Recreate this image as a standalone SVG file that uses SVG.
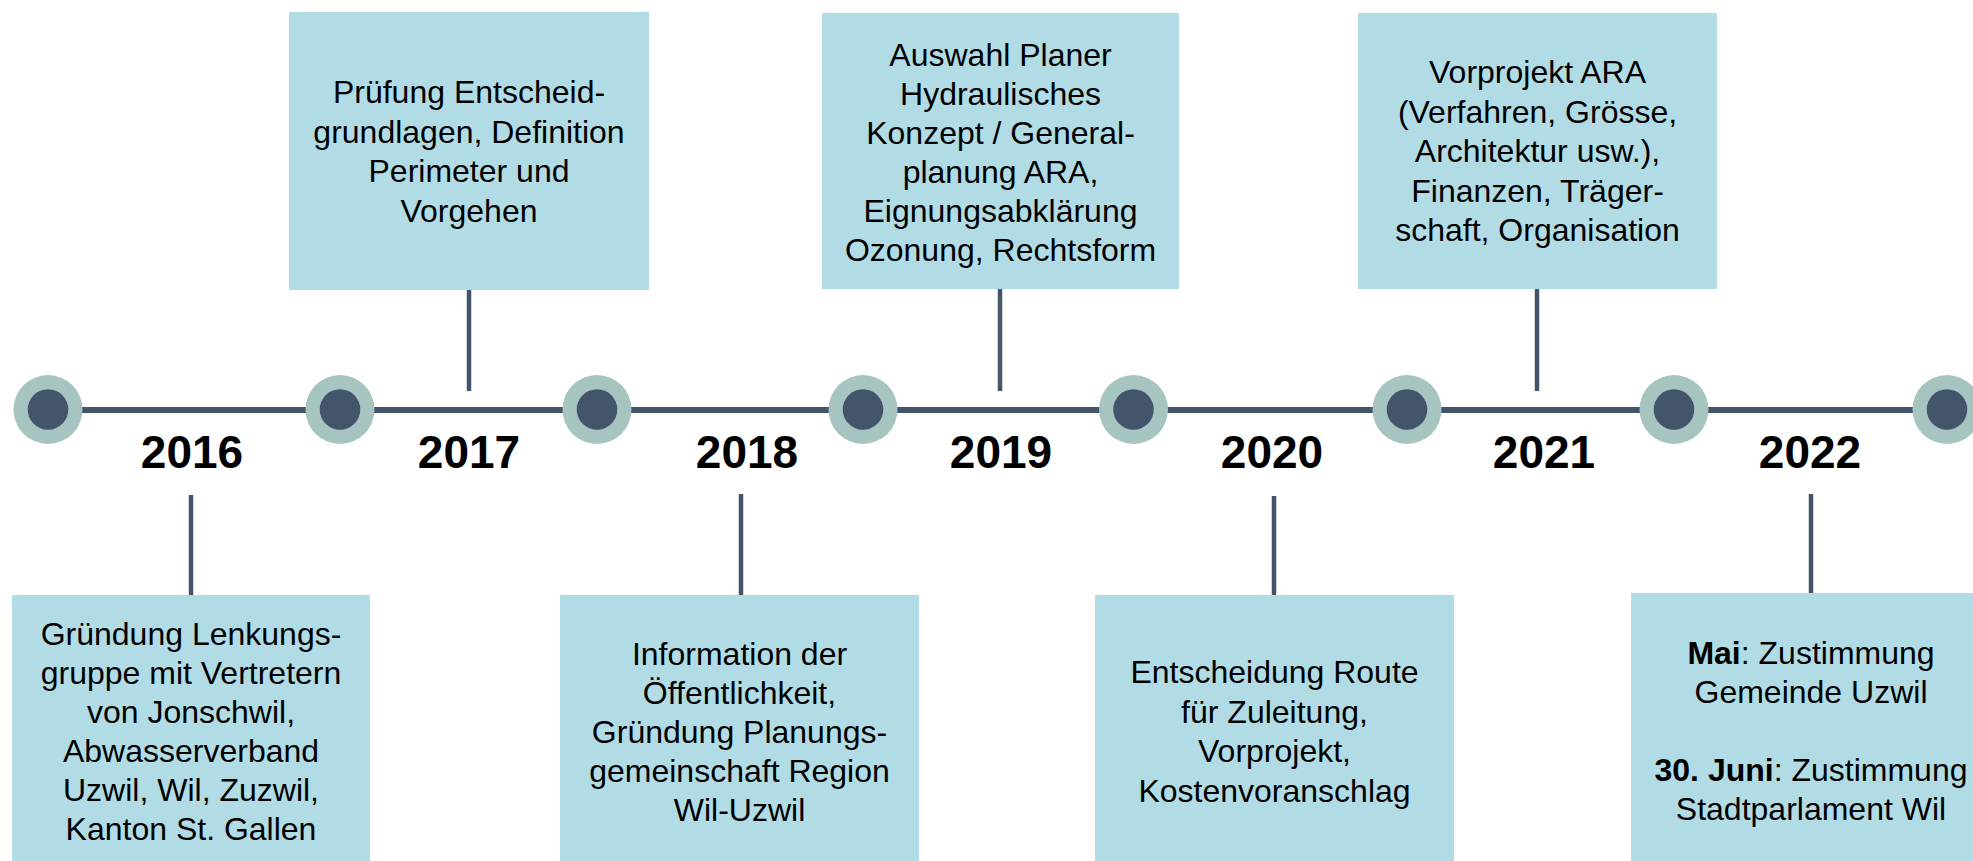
<svg xmlns="http://www.w3.org/2000/svg" width="1973" height="861" viewBox="0 0 1973 861">
<style>
.box{fill:#B1DCE5;}
.t{font-family:"Liberation Sans",Arial,sans-serif;font-size:32px;fill:#000;text-anchor:middle;}
.yr{font-family:"Liberation Sans",Arial,sans-serif;font-size:46px;font-weight:bold;fill:#000;text-anchor:middle;}
.conn{stroke:#44546A;stroke-width:4.5;fill:none;}
.ring{fill:#A6C4C0;}
.dot{fill:#44546A;}
</style>
<rect width="1973" height="861" fill="#FFFFFF"/>
<g id="connectors">
<line x1="48" y1="410" x2="1973" y2="410" stroke="#44546A" stroke-width="6"/>
<line class="conn" x1="469" y1="289" x2="469" y2="391"/>
<line class="conn" x1="1000" y1="289" x2="1000" y2="391"/>
<line class="conn" x1="1537" y1="289" x2="1537" y2="391"/>
<line class="conn" x1="191" y1="495" x2="191" y2="595"/>
<line class="conn" x1="741" y1="494" x2="741" y2="595"/>
<line class="conn" x1="1274" y1="496" x2="1274" y2="595"/>
<line class="conn" x1="1811" y1="494" x2="1811" y2="595"/>
</g>
<g id="markers">
<g id="m1"><circle class="ring" cx="48" cy="409.5" r="34.5"/><circle class="dot" cx="48" cy="409.5" r="20.3"/></g>
<g id="m2"><circle class="ring" cx="340" cy="409.5" r="34.5"/><circle class="dot" cx="340" cy="409.5" r="20.3"/></g>
<g id="m3"><circle class="ring" cx="597" cy="409.5" r="34.5"/><circle class="dot" cx="597" cy="409.5" r="20.3"/></g>
<g id="m4"><circle class="ring" cx="863" cy="409.5" r="34.5"/><circle class="dot" cx="863" cy="409.5" r="20.3"/></g>
<g id="m5"><circle class="ring" cx="1133.5" cy="409.5" r="34.5"/><circle class="dot" cx="1133.5" cy="409.5" r="20.3"/></g>
<g id="m6"><circle class="ring" cx="1407" cy="409.5" r="34.5"/><circle class="dot" cx="1407" cy="409.5" r="20.3"/></g>
<g id="m7"><circle class="ring" cx="1674" cy="409.5" r="34.5"/><circle class="dot" cx="1674" cy="409.5" r="20.3"/></g>
<g id="m8"><circle class="ring" cx="1947" cy="409.5" r="34.5"/><circle class="dot" cx="1947" cy="409.5" r="20.3"/></g>
</g>
<g id="years">
<text class="yr" x="192" y="468">2016</text>
<text class="yr" x="469" y="468">2017</text>
<text class="yr" x="747" y="468">2018</text>
<text class="yr" x="1001" y="468">2019</text>
<text class="yr" x="1272" y="468">2020</text>
<text class="yr" x="1544" y="468">2021</text>
<text class="yr" x="1810" y="468">2022</text>
</g>
<g id="box2017">
<rect class="box" x="289" y="12" width="360" height="278"/>
<text class="t" x="469" y="103">Prüfung Entscheid-</text>
<text class="t" x="469" y="142.5">grundlagen, Definition</text>
<text class="t" x="469" y="182">Perimeter und</text>
<text class="t" x="469" y="221.5">Vorgehen</text>
</g>
<g id="box2019">
<rect class="box" x="822" y="13" width="357" height="276"/>
<text class="t" x="1000.5" y="66">Auswahl Planer</text>
<text class="t" x="1000.5" y="105">Hydraulisches</text>
<text class="t" x="1000.5" y="144">Konzept / General-</text>
<text class="t" x="1000.5" y="183">planung ARA,</text>
<text class="t" x="1000.5" y="222">Eignungsabklärung</text>
<text class="t" x="1000.5" y="261">Ozonung, Rechtsform</text>
</g>
<g id="box2021">
<rect class="box" x="1358" y="13" width="359" height="276"/>
<text class="t" x="1537.5" y="83">Vorprojekt ARA</text>
<text class="t" x="1537.5" y="122.5">(Verfahren, Grösse,</text>
<text class="t" x="1537.5" y="162">Architektur usw.),</text>
<text class="t" x="1537.5" y="201.5">Finanzen, Träger-</text>
<text class="t" x="1537.5" y="241">schaft, Organisation</text>
</g>
<g id="box2016">
<rect class="box" x="12" y="595" width="358" height="278"/>
<text class="t" x="191" y="645">Gründung Lenkungs-</text>
<text class="t" x="191" y="684">gruppe mit Vertretern</text>
<text class="t" x="191" y="723">von Jonschwil,</text>
<text class="t" x="191" y="762">Abwasserverband</text>
<text class="t" x="191" y="801">Uzwil, Wil, Zuzwil,</text>
<text class="t" x="191" y="840">Kanton St. Gallen</text>
</g>
<g id="box2018">
<rect class="box" x="560" y="595" width="359" height="278"/>
<text class="t" x="739.5" y="665">Information der</text>
<text class="t" x="739.5" y="704">Öffentlichkeit,</text>
<text class="t" x="739.5" y="743">Gründung Planungs-</text>
<text class="t" x="739.5" y="782">gemeinschaft Region</text>
<text class="t" x="739.5" y="821">Wil-Uzwil</text>
</g>
<g id="box2020">
<rect class="box" x="1095" y="595" width="359" height="278"/>
<text class="t" x="1274.5" y="683">Entscheidung Route</text>
<text class="t" x="1274.5" y="722.5">für Zuleitung,</text>
<text class="t" x="1274.5" y="762">Vorprojekt,</text>
<text class="t" x="1274.5" y="801.5">Kostenvoranschlag</text>
</g>
<g id="box2022">
<rect class="box" x="1631" y="593" width="360" height="280"/>
<text class="t" x="1811" y="664"><tspan font-weight="bold">Mai</tspan>: Zustimmung</text>
<text class="t" x="1811" y="703">Gemeinde Uzwil</text>
<text class="t" x="1811" y="781"><tspan font-weight="bold">30. Juni</tspan>: Zustimmung</text>
<text class="t" x="1811" y="820">Stadtparlament Wil</text>
</g>
</svg>
